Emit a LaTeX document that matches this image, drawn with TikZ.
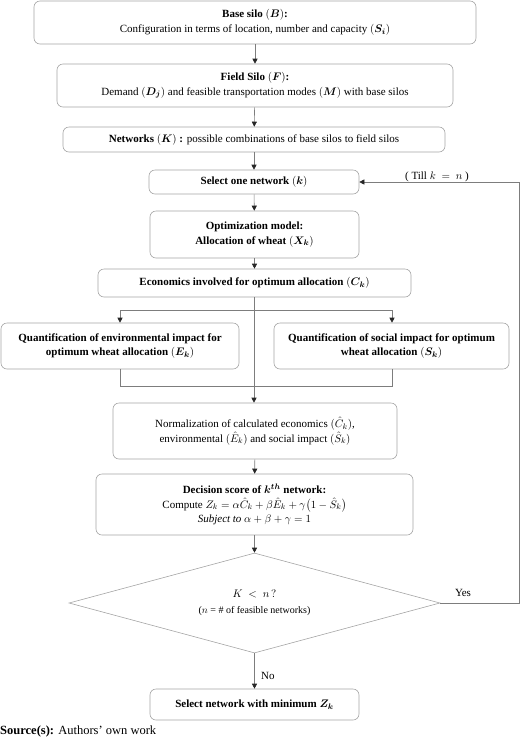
\documentclass[tikz,border=0pt]{standalone}
\usepackage{amsmath,amssymb}
\usepackage{fontspec}
\setmainfont{Liberation Serif}
\usepackage{xcolor}
\usepackage{tikz}
\usetikzlibrary{arrows.meta,shapes.geometric}
\definecolor{boxgray}{RGB}{165,165,165}
\definecolor{linegray}{RGB}{125,125,125}
\begin{document}
\begin{tikzpicture}[x=1pt,y=1pt,yscale=-1,xscale=1,
  every node/.style={font=\fontsize{11}{14.5}\selectfont},
  box/.style={draw=boxgray,line width=0.6pt,rounded corners=6pt,align=center,inner sep=1pt},
  line/.style={draw=linegray,line width=0.6pt},
  arr/.style={line,-{Triangle[length=5pt,width=5pt,color=black!85]}}]
\useasboundingbox (0,0) rectangle (520,740);
% Boxes
\node [box,minimum width=442,minimum height=43] (base) at (255,22.5) {\textbf{Base silo $(\boldsymbol{B})$:}\\Configuration in terms of location, number and capacity $(\boldsymbol{S_i})$};
\node [box,minimum width=396,minimum height=43] (field) at (255,85.5) {\textbf{Field Silo $(\boldsymbol{F})$:}\\Demand $(\boldsymbol{D_j})$ and feasible transportation modes $(\boldsymbol{M})$ with base silos};
\node [box,minimum width=382,minimum height=25] (netw) at (254,139.5) {\textbf{Networks $(\boldsymbol{K})$ :} possible combinations of base silos to field silos};
\node [box,minimum width=210,minimum height=24] (sel) at (254,182) {\textbf{Select one network $(\boldsymbol{k})$}};
\node [box,minimum width=209,minimum height=47] (opt) at (254.5,234.5) {\textbf{Optimization model:}\\\textbf{Allocation of wheat $(\boldsymbol{X_k})$}};
\node [box,minimum width=313,minimum height=28] (econ) at (254.5,283) {\textbf{Economics involved for optimum allocation $(\boldsymbol{C_k})$}};
\node [box,minimum width=238,minimum height=46] (env) at (120,346) {\textbf{Quantification of environmental impact for}\\\textbf{optimum wheat allocation $(\boldsymbol{E_k})$}};
\node [box,minimum width=235,minimum height=46] (soc) at (391.5,346) {\textbf{Quantification of social impact for optimum}\\\textbf{wheat allocation $(\boldsymbol{S_k})$}};
\node [box,minimum width=284,minimum height=56] (norm) at (255,431) {Normalization of calculated economics $(\hat{C}_k)$,\\environmental $(\hat{E}_k)$ and social impact $(\hat{S}_k)$};
\node [box,minimum width=317,minimum height=61] (dec) at (254.5,504.5) {\textbf{Decision score of $\boldsymbol{k^{th}}$ network:}\\Compute $Z_k=\alpha\hat{C}_k+\beta\hat{E}_k+\gamma\bigl(1-\hat{S}_k\bigr)$\\\textit{Subject to} $\alpha+\beta+\gamma=1$};
\node [diamond,draw=boxgray,line width=0.6pt,aspect=3.7,inner sep=0pt,minimum width=371,minimum height=100,align=center] (dia) at (254.5,603) {$K\ <\ n\,?$\\[2pt]{\fontsize{10}{12}\selectfont($n$ = \# of feasible networks)}};
\node [box,minimum width=209,minimum height=31] (final) at (254.5,704.5) {\textbf{Select network with minimum $\boldsymbol{Z_k}$}};
% Coordinates
\coordinate (split) at (254,310);
\coordinate (splitL) at (120,310);
\coordinate (splitR) at (392,310);
\coordinate (joinL) at (120,386);
\coordinate (joinR) at (392,386);
\coordinate (back) at (519,603);
% Connectors
\draw [arr] (base) -- (field);
\draw [arr] (field) -- (netw);
\draw [arr] (netw) -- (sel);
\draw [arr] (sel) -- (opt);
\draw [arr] (opt) -- (econ);
\draw [arr] (econ.south -| split) -- (norm.north -| split);
\draw [line] (splitL) -- (splitR);
\draw [arr] (splitL) -- (env.north -| splitL);
\draw [arr] (splitR) -- (soc.north -| splitR);
\draw [line] (env.south -| joinL) -- (joinL) -- (joinR) -- (soc.south -| joinR);
\draw [arr] (norm) -- (dec);
\draw [arr] (dec) -- (dia);
\draw [arr] (dia) -- (final) node [pos=0.65,right=3pt] {No};
\draw [arr] (dia.east) -- (back) |- (sel.east);
% Text Node
\node (yes) at (463,593) {Yes};
\node (till) at (437,177) {( Till $k\ =\ n$ )};
\node [anchor=west,inner sep=0pt,font=\fontsize{12.5}{15}\selectfont] (src) at (0,731) {\textbf{Source(s):} Authors’ own work};
\end{tikzpicture}
\end{document}
